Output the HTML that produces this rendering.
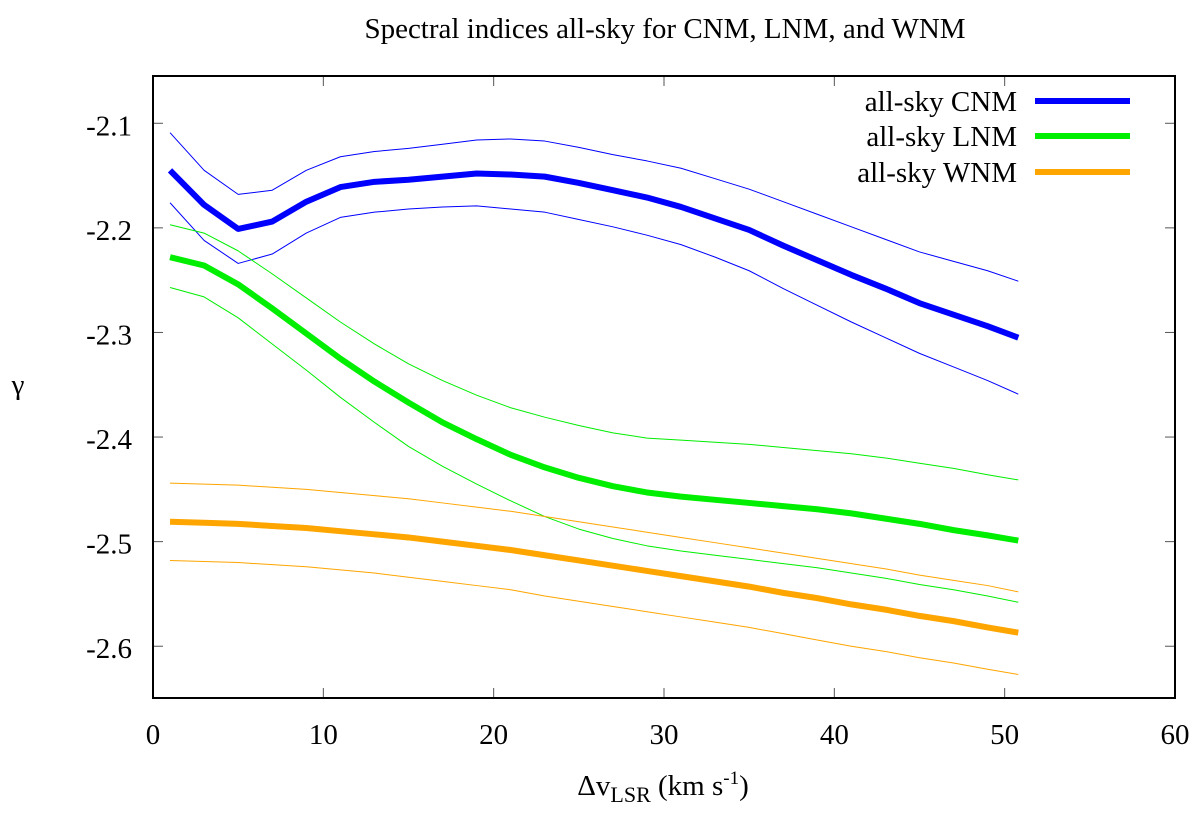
<!DOCTYPE html>
<html><head><meta charset="utf-8"><style>
body{margin:0;background:#fff;}
svg text{font-family:"Liberation Serif",serif;font-size:29px;fill:#000;}
</style></head><body>
<svg id="chart" width="1200" height="815">
<text x="665" y="38" text-anchor="middle" font-size="28">Spectral indices all-sky for CNM, LNM, and WNM</text>
<g id="axes"></g>
<g id="series"></g>
<g id="legend"></g>
<text x="663" y="795" text-anchor="middle">Δv<tspan baseline-shift="-7" font-size="22">LSR</tspan><tspan baseline-shift="0"> (km s</tspan><tspan baseline-shift="11" font-size="19">-1</tspan><tspan>)</tspan></text>
<text x="18" y="394" text-anchor="middle" font-size="32">γ</text>
<rect x="153" y="76" width="1022" height="622" fill="none" stroke="#000" stroke-width="2"/>
</svg>
<script>
const xs=[1,3,5,7,9,11,13,15,17,19,21,23,25,27,29,31,33,35,37,39,41,43,45,47,49,50.8];
const cnm=[-2.145,-2.178,-2.201,-2.194,-2.175,-2.161,-2.156,-2.154,-2.151,-2.148,-2.149,-2.151,-2.157,-2.164,-2.171,-2.180,-2.191,-2.202,-2.217,-2.231,-2.245,-2.258,-2.272,-2.283,-2.294,-2.305];
const cnmHi=[-2.109,-2.145,-2.168,-2.164,-2.145,-2.132,-2.127,-2.124,-2.120,-2.116,-2.115,-2.117,-2.123,-2.130,-2.136,-2.143,-2.153,-2.163,-2.175,-2.187,-2.199,-2.211,-2.223,-2.232,-2.241,-2.251];
const cnmLo=[-2.176,-2.212,-2.234,-2.225,-2.205,-2.190,-2.185,-2.182,-2.180,-2.179,-2.182,-2.185,-2.192,-2.199,-2.207,-2.216,-2.228,-2.241,-2.258,-2.274,-2.290,-2.305,-2.320,-2.333,-2.346,-2.359];
const lnm=[-2.228,-2.236,-2.254,-2.277,-2.301,-2.325,-2.347,-2.367,-2.386,-2.402,-2.417,-2.429,-2.439,-2.447,-2.453,-2.457,-2.460,-2.463,-2.466,-2.469,-2.473,-2.478,-2.483,-2.489,-2.494,-2.499];
const lnmHi=[-2.197,-2.205,-2.222,-2.244,-2.267,-2.290,-2.311,-2.330,-2.346,-2.360,-2.372,-2.381,-2.389,-2.396,-2.401,-2.403,-2.405,-2.407,-2.410,-2.413,-2.416,-2.420,-2.425,-2.430,-2.436,-2.441];
const lnmLo=[-2.257,-2.266,-2.286,-2.311,-2.336,-2.362,-2.386,-2.409,-2.428,-2.445,-2.461,-2.476,-2.488,-2.497,-2.504,-2.509,-2.513,-2.517,-2.521,-2.525,-2.530,-2.535,-2.541,-2.546,-2.552,-2.558];
const wnm=[-2.481,-2.482,-2.483,-2.485,-2.487,-2.490,-2.493,-2.496,-2.500,-2.504,-2.508,-2.513,-2.518,-2.523,-2.528,-2.533,-2.538,-2.543,-2.549,-2.554,-2.560,-2.565,-2.571,-2.576,-2.582,-2.587];
const wnmHi=[-2.444,-2.445,-2.446,-2.448,-2.450,-2.453,-2.456,-2.459,-2.463,-2.467,-2.471,-2.476,-2.481,-2.486,-2.491,-2.496,-2.501,-2.506,-2.511,-2.516,-2.521,-2.526,-2.532,-2.537,-2.542,-2.548];
const wnmLo=[-2.518,-2.519,-2.520,-2.522,-2.524,-2.527,-2.530,-2.534,-2.538,-2.542,-2.546,-2.552,-2.557,-2.562,-2.567,-2.572,-2.577,-2.582,-2.588,-2.594,-2.600,-2.605,-2.611,-2.616,-2.622,-2.627];
const xTicks=[0,10,20,30,40,50,60];
const yTicks=[-2.1,-2.2,-2.3,-2.4,-2.5,-2.6];
const legendLabels=["all-sky CNM","all-sky LNM","all-sky WNM"];

const X0=153,X1=1175,Y0=698,Y1=76,XMIN=0,XMAX=60,YMIN=-2.6495,YMAX=-2.0548;
const sx=v=>X0+(v-XMIN)/(XMAX-XMIN)*(X1-X0);
const sy=v=>Y0-(v-YMIN)/(YMAX-YMIN)*(Y0-Y1);
const NS="http://www.w3.org/2000/svg";
function mk(tag,attrs,parent){const e=document.createElementNS(NS,tag);for(const k in attrs)e.setAttribute(k,attrs[k]);parent.appendChild(e);return e;}
const axes=document.getElementById('axes'),series=document.getElementById('series'),legend=document.getElementById('legend');
xTicks.forEach(t=>{
  const x=sx(t);
  let l=mk('line',{x1:x,x2:x,y1:Y0,y2:Y0-10,stroke:'#555','stroke-width':1},axes);
  
  
  let l2=mk('line',{x1:x,x2:x,y1:Y1,y2:Y1+10,stroke:'#555','stroke-width':1},axes);
  
  
  let tx=mk('text',{x:x,y:Y0+46,'text-anchor':'middle'},axes);tx.textContent=t;
  
  
});
yTicks.forEach(t=>{
  const y=sy(t);
  let l=mk('line',{x1:X0,x2:X0+10,y1:y,y2:y,stroke:'#555','stroke-width':1},axes);
  
  
  let l2=mk('line',{x1:X1,x2:X1-10,y1:y,y2:y,stroke:'#555','stroke-width':1},axes);
  
  
  let tx=mk('text',{x:X0-21,y:y+12,'text-anchor':'end'},axes);tx.textContent=t.toFixed(1);
  
  
});
const defs=[[cnm,'#0000ff',6,'cnm-line'],[cnmHi,'#0000ff',1,'cnm-upper'],[cnmLo,'#0000ff',1,'cnm-lower'],
[lnm,'#00ee00',6,'lnm-line'],[lnmHi,'#00ee00',1,'lnm-upper'],[lnmLo,'#00ee00',1,'lnm-lower'],
[wnm,'#ffa500',6,'wnm-line'],[wnmHi,'#ffa500',1,'wnm-upper'],[wnmLo,'#ffa500',1,'wnm-lower']];
defs.forEach(([ys,c,w,n])=>{
  const p=mk('polyline',{points:ys.map((v,i)=>sx(xs[i])+','+sy(v)).join(' '),fill:'none',stroke:c,'stroke-width':w,'stroke-linejoin':'round'},series);
  
  
});
const lc=['#0000ff','#00ee00','#ffa500'],ly=[101,136,172];
legendLabels.forEach((s,i)=>{
  const t=mk('text',{x:1017,y:ly[i]+10,'text-anchor':'end'},legend);t.textContent=s;
  
  
  const l=mk('line',{x1:1035,x2:1130,y1:ly[i],y2:ly[i],stroke:lc[i],'stroke-width':6},legend);
  
  
});
</script>
</body></html>
